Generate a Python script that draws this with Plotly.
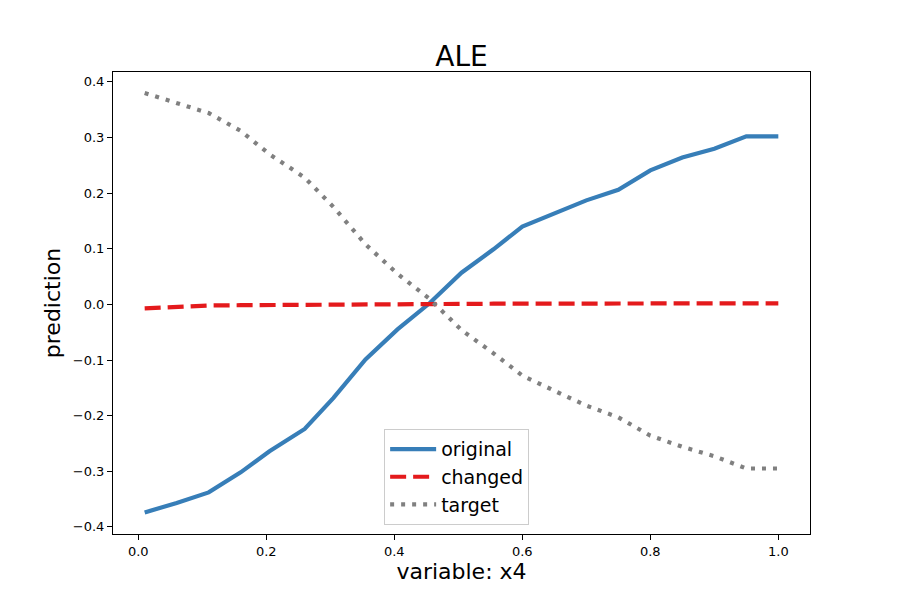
import plotly.graph_objects as go

x_grid = [0.01, 0.06, 0.11, 0.16, 0.205, 0.26, 0.305, 0.355, 0.405, 0.455, 0.505,
          0.555, 0.60, 0.655, 0.70, 0.75, 0.80, 0.85, 0.90, 0.95, 1.00]
original = [-0.374, -0.357, -0.338, -0.302, -0.264, -0.224, -0.168, -0.099, -0.045, 0.002, 0.057,
            0.099, 0.140, 0.166, 0.187, 0.206, 0.241, 0.264, 0.280, 0.302, 0.302]
changed = [-0.007, -0.004, -0.002, -0.0015, -0.001, -0.0005, 0.0, 0.0003, 0.0006, 0.0008, 0.001,
           0.0012, 0.0013, 0.0014, 0.0015, 0.0016, 0.0017, 0.0018, 0.0019, 0.002, 0.002]
target = [0.380, 0.362, 0.344, 0.312, 0.270, 0.228, 0.175, 0.108, 0.055, 0.010, -0.046,
          -0.088, -0.128, -0.158, -0.182, -0.203, -0.236, -0.256, -0.273, -0.295, -0.295]

series_names = ["original", "changed", "target"]
series_colors = ["#377eb8", "#e41a1c", "#808080"]
series_dash = ["solid", "16px,7px", "4px,7px"]

FONT = "DejaVu Sans"
fig = go.Figure()
for name, ys, col, dash in zip(series_names, [original, changed, target], series_colors, series_dash):
    fig.add_trace(go.Scatter(x=x_grid, y=ys, mode="lines", name=name,
                             line=dict(color=col, width=4.2, dash=dash)))

axis_common = dict(showline=True, linecolor="black", linewidth=1, mirror=True,
                   ticks="outside", ticklen=5, tickcolor="black", showgrid=False,
                   zeroline=False, tickfont=dict(family=FONT, size=13, color="black"),
                   tickformat=".1f")
fig.update_layout(
    width=900, height=600,
    margin=dict(l=104.5, r=98, t=64, b=74),
    paper_bgcolor="white", plot_bgcolor="white",
    font=dict(family=FONT, color="black"),
    title=dict(text="ALE", x=0.5, xref="paper", xanchor="center", y=1, yref="paper",
               yanchor="bottom", pad=dict(b=6), font=dict(family=FONT, size=28, color="black")),
    xaxis=dict(range=[-0.0395, 1.0495], dtick=0.2, tick0=0,
               title=dict(text="variable: x4", font=dict(family=FONT, size=22), standoff=4),
               **axis_common),
    yaxis=dict(range=[-0.4128, 0.4178], dtick=0.1, tick0=0,
               title=dict(text="prediction", font=dict(family=FONT, size=22), standoff=6),
               **axis_common),
    legend=dict(x=0.389, y=0.019, xanchor="left", yanchor="bottom",
                bgcolor="rgba(255,255,255,0.8)", bordercolor="#cccccc", borderwidth=1,
                font=dict(family=FONT, size=19, color="black"), itemwidth=46,
                tracegroupgap=0),
    showlegend=True,
)
fig.write_html("out.html")
